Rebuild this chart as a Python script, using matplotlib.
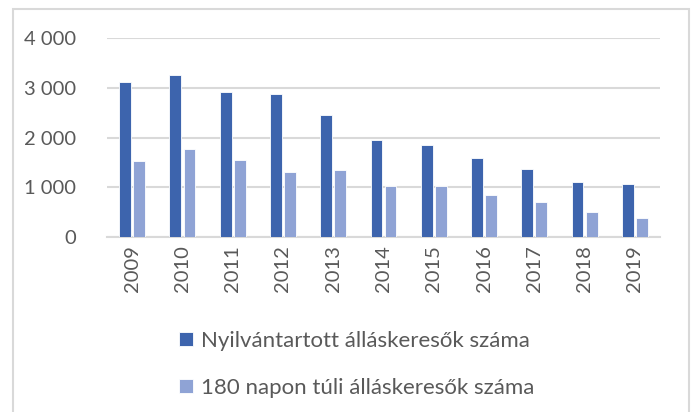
import numpy as np
import matplotlib.pyplot as plt
from matplotlib.patches import Rectangle

years = ['2009', '2010', '2011', '2012', '2013', '2014', '2015', '2016', '2017', '2018', '2019']
registered = [3125, 3266, 2924, 2871, 2461, 1952, 1851, 1590, 1374, 1107, 1060]
over_180 = [1530, 1771, 1556, 1302, 1354, 1020, 1020, 839, 710, 497, 389]
labels = ['Nyilvántartott álláskeresők száma', '180 napon túli álláskeresők száma']
yticks = [0, 1000, 2000, 3000, 4000]

plt.rcParams['font.family'] = ['Lato', 'DejaVu Sans']

fig = plt.figure(figsize=(6.97, 4.12), dpi=100)
ax = fig.add_axes([107/697, 1-237/412, 553/697, (237-38.3)/412])

# chart border
fig.patches.append(Rectangle((13/697, -0.1), 676/697, 1.1-9/412, transform=fig.transFigure,
                             fill=False, edgecolor='#D9D9D9', lw=1.5))

x = np.arange(len(years))
w = 0.235
ax.bar(x - 0.14, registered, w, color='#3D64AD', edgecolor='white', lw=0.6, label=labels[0], zorder=3)
ax.bar(x + 0.14, over_180, w, color='#8FA3D5', edgecolor='white', lw=0.6, label=labels[1], zorder=3)

ax.set_xlim(-0.5, len(years) - 0.5)
ax.set_ylim(0, 4000)
ax.set_yticks(yticks)
ax.set_yticklabels([f'{v:,}'.replace(',', ' ') for v in yticks])
ax.set_xticks(x)
ax.set_xticklabels(years, rotation=90)
ax.yaxis.grid(True, color='#D9D9D9', lw=1.5)
ax.set_axisbelow(True)
for s in ['top', 'right', 'left']:
    ax.spines[s].set_visible(False)
ax.spines['bottom'].set_color('#D9D9D9')
ax.spines['bottom'].set_linewidth(1.5)
ax.tick_params(axis='both', length=0, labelsize=14.5, colors='#595959')
ax.tick_params(axis='y', pad=22)
ax.tick_params(axis='x', pad=6)

handles, lbls = ax.get_legend_handles_labels()
fig.legend(handles, lbls, loc='center', bbox_to_anchor=(357/697, 1-364.5/412), ncol=1, frameon=False,
           fontsize=16, labelcolor='#595959', handlelength=0.6, handleheight=0.6,
           handletextpad=0.4, labelspacing=1.2)

fig.savefig('out.png', dpi=100)
